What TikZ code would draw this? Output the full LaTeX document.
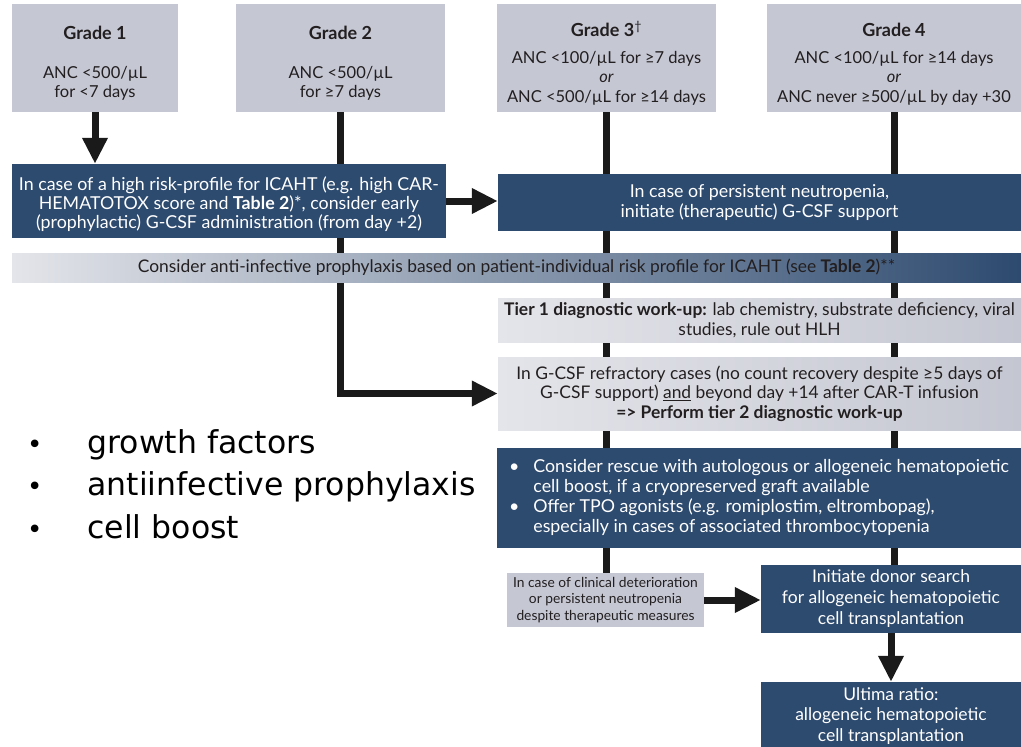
\documentclass[tikz,border=0pt]{standalone}
\usepackage{fontspec}
\setmainfont{Lato}
\newfontfamily\listfont{DejaVu Sans}
\usetikzlibrary{arrows.meta,backgrounds}

\definecolor{navy}{HTML}{2D4A6F}
\definecolor{boxgray}{HTML}{C5C7D3}
\definecolor{palegray}{HTML}{E4E5EA}
\definecolor{duskgray}{HTML}{C4C6D1}
\definecolor{inkline}{HTML}{1A1A1A}
\definecolor{ink}{HTML}{231F20}

\newcommand{\topgap}[1]{\rule{0pt}{#1}}

\tikzset{
  gradebox/.style={fill=boxgray, text=ink, align=center, inner sep=0pt,
    font=\fontsize{16.5}{19.5}\selectfont},
  navybox/.style={fill=navy, text=white, align=center, inner sep=0pt,
    font=\fontsize{17.8}{19}\selectfont},
  shadebox/.style={left color=palegray, right color=duskgray, text=ink,
    align=center, inner sep=0pt, font=\fontsize{17.4}{19.5}\selectfont},
  flow/.style={draw=inkline, line width=7pt},
  arr/.style={flow, -{Triangle[length=26pt,width=24pt]}},
}

\begin{document}
\begin{tikzpicture}[x=1pt,y=-1pt]
  \useasboundingbox (0,0) rectangle (1021,747);
  \clip (0,0) rectangle (1021,747);

  % grades
  \node[gradebox, minimum width=166, minimum height=108] (g1) at (95,58)
    {\topgap{24pt}{\fontsize{18}{19.5}\selectfont\textbf{Grade 1}}\\[19pt]ANC <500/µL\\for <7 days};
  \node[gradebox, minimum width=209, minimum height=108] (g2) at (340.5,58)
    {\topgap{24pt}{\fontsize{18}{19.5}\selectfont\textbf{Grade 2}}\\[19pt]ANC <500/µL\\for ≥7 days};
  \node[gradebox, minimum width=219, minimum height=108] (g3) at (606.5,58)
    {\topgap{26pt}{\fontsize{18}{19.5}\selectfont\textbf{Grade 3}\textsuperscript{†}}\\[7pt]ANC <100/µL for ≥7 days\\\textit{or}\\ANC <500/µL for ≥14 days};
  \node[gradebox, minimum width=254, minimum height=108] (g4) at (894,58)
    {\topgap{26pt}{\fontsize{18}{19.5}\selectfont\textbf{Grade 4}}\\[7pt]ANC <100/µL for ≥14 days\\\textit{or}\\ANC never ≥500/µL by day +30};

  % G-CSF
  \node[navybox, minimum width=434, minimum height=74] (risk) at (229,201)
    {\topgap{20pt}In case of a high risk-profile for ICAHT (e.g. high CAR-\\HEMATOTOX score and \textbf{Table 2})*, consider early\\(prophylactic) G-CSF administration (from day +2)};
  \node[navybox, minimum width=523, minimum height=57, font=\fontsize{17.8}{20}\selectfont] (gcsf) at (759.5,202.5)
    {In case of persistent neutropenia,\\initiate (therapeutic) G-CSF support};

  % prophylaxis bar
  \node[shadebox, left color=palegray, right color=navy, minimum width=1009, minimum height=29] (proph) at (516.5,267.5)
    {Consider anti-infective prophylaxis based on patient-individual risk profile for ICAHT (see \textbf{Table 2})**};

  % work-up
  \node[shadebox, minimum width=523, minimum height=44, font=\fontsize{17.4}{20}\selectfont] (tier) at (759.5,320)
    {\textbf{Tier 1 diagnostic work-up:} lab chemistry, substrate deficiency, viral\\studies, rule out HLH};
  \node[shadebox, minimum width=523, minimum height=73] (refr) at (759.5,393.5)
    {In G-CSF refractory cases (no count recovery despite ≥5 days of\\G-CSF support) \underline{and} beyond day +14 after CAR-T infusion\\\textbf{=> Perform tier 2 diagnostic work-up}};
  \node[navybox, align=left, minimum width=524, minimum height=100, font=\fontsize{17.8}{20}\selectfont] (rescue) at (759,498)
    {\begin{tabular}{@{}c@{\hspace{14pt}}l@{}}
      • & Consider rescue with autologous or allogeneic hematopoietic\\
        & cell boost, if a cryopreserved graft available\\
      • & Offer TPO agonists (e.g. romiplostim, eltrombopag),\\
        & especially in cases of associated thrombocytopenia
     \end{tabular}};

  % transplantation
  \node[gradebox, minimum width=197, minimum height=54, font=\fontsize{13.8}{16.5}\selectfont] (worse) at (605.5,600)
    {In case of clinical deterioration\\or persistent neutropenia\\despite therapeutic measures};
  \node[navybox, minimum width=260, minimum height=68, font=\fontsize{17.5}{21}\selectfont] (donor) at (891,599)
    {Initiate donor search\\for allogeneic hematopoietic\\cell transplantation};
  \node[navybox, minimum width=260, minimum height=68, font=\fontsize{17.5}{20.5}\selectfont] (ultima) at (891,716)
    {Ultima ratio:\\allogeneic hematopoietic\\cell transplantation};

  % slide bullets
  \node[anchor=base west, inner sep=0pt, font=\listfont\fontsize{31.5}{42.5}\selectfont] (aims) at (27,453)
    {\begin{tabular}[t]{@{}l@{\hspace{45pt}}l@{}}
      {\fontsize{26}{26}\selectfont •} & growth factors\\
      {\fontsize{26}{26}\selectfont •} & antiinfective prophylaxis\\
      {\fontsize{26}{26}\selectfont •} & cell boost
     \end{tabular}};

  % connectors
  \begin{pgfonlayer}{background}
    \draw[arr] (g1.south) -- (g1.south |- risk.north);
    \draw[arr] (g2.south) |- (refr.west);
    \draw[arr] (risk.east) -- (risk.east -| gcsf.west);
    \draw[flow] (g3.south) -- (g3.south |- worse.north);
    \draw[flow] (g4.south) -- (g4.south |- donor.north);
    \draw[arr] (worse.east) -- (worse.east -| donor.west);
    \draw[arr] (donor.south) -- (ultima.north);
  \end{pgfonlayer}
\end{tikzpicture}
\end{document}
